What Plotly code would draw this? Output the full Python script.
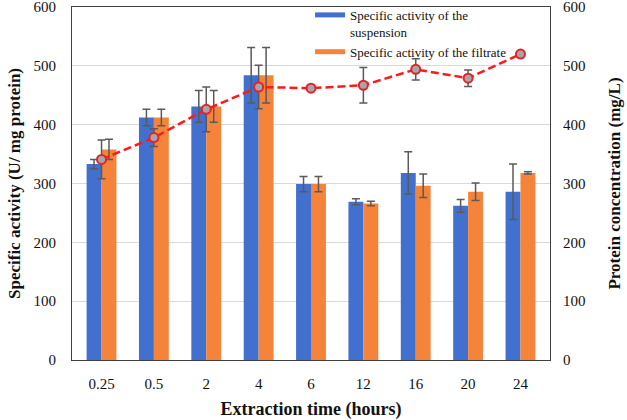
import plotly.graph_objects as go

categories = ["0.25", "0.5", "2", "4", "6", "12", "16", "20", "24"]
suspension = [333, 412, 431, 484, 299, 269, 318, 262, 286]
suspension_err = [8, 14, 27, 47, 13, 5, 36, 11, 47]
filtrate = [358, 412, 431, 484, 299, 266, 296, 286, 318]
filtrate_err = [17, 14, 27, 47, 13, 4, 20, 15, 2]
protein = [341, 378, 426, 464, 462, 467, 494, 479, 520]
protein_err = [33, 15, 38, 37, 3, 30, 18, 14, 0]

BLUE = "#4170CF"
ORANGE = "#F5843A"
ERR = "#5A5A5A"
FONT = "Liberation Serif"

fig = go.Figure()
fig.add_trace(go.Bar(
    x=categories, y=suspension, name="Specific activity of the<br>suspension",
    marker=dict(color=BLUE, line=dict(width=0)), showlegend=False,
    error_y=dict(type="data", array=suspension_err, color=ERR, thickness=1.5, width=4)))
fig.add_trace(go.Bar(
    x=categories, y=filtrate, name="Specific activity of the filtrate",
    marker=dict(color=ORANGE, line=dict(width=0)), showlegend=False,
    error_y=dict(type="data", array=filtrate_err, color=ERR, thickness=1.5, width=4)))
fig.add_trace(go.Scatter(
    x=categories, y=protein, yaxis="y2", mode="lines+markers", showlegend=False,
    line=dict(color="#FF1A1A", width=2.5, dash="8px,4px"),
    marker=dict(size=9, color="#A6A6A6", line=dict(color="#E8202A", width=2)),
    error_y=dict(type="data", array=protein_err, color=ERR, thickness=1.5, width=4)))
# legend-only entries with wide bar symbols
fig.add_trace(go.Scatter(x=[None], y=[None], mode="lines", name="Specific activity of the<br>suspension",
                         line=dict(color=BLUE, width=5)))
fig.add_trace(go.Scatter(x=[None], y=[None], mode="lines", name="Specific activity of the filtrate",
                         line=dict(color=ORANGE, width=5)))

axis_common = dict(showline=True, linecolor="#404040", linewidth=1, automargin=False,
                   ticklabeloverflow="allow",
                   tickfont=dict(family=FONT, size=15, color="#111"), ticks="")

fig.update_layout(
    width=627, height=420,
    margin=dict(l=72, r=77, t=7, b=60, autoexpand=False),
    paper_bgcolor="white", plot_bgcolor="white",
    barmode="group", bargap=0.43, bargroupgap=0,
    font=dict(family=FONT, color="#111"),
    xaxis=dict(**axis_common, mirror=True, ticklabelstandoff=10,
               title=dict(text="<b>Extraction time (hours)</b>", font=dict(family=FONT, size=18), standoff=14)),
    yaxis=dict(**axis_common, range=[0, 600], dtick=100, showgrid=True, gridcolor="#D9D9D9", gridwidth=1,
               zeroline=False, mirror=True, ticklabelstandoff=12,
               title=dict(text="<b>Specific activity (U/ mg protein)</b>", font=dict(family=FONT, size=17), standoff=8)),
    yaxis2=dict(tickfont=dict(family=FONT, size=15, color="#111"), overlaying="y", side="right", automargin=False,
                ticklabeloverflow="allow",
                range=[0, 600], dtick=100, showgrid=False, zeroline=False, showline=False, ticklabelstandoff=12,
                title=dict(text="<b>Protein concentration (mg/L)</b>", font=dict(family=FONT, size=17), standoff=23)),
    legend=dict(x=0.498, y=1.02, xanchor="left", yanchor="top", bgcolor="rgba(0,0,0,0)", valign="top",
                font=dict(family=FONT, size=13), tracegroupgap=0, itemwidth=30),
)

fig.write_html("out.html")
